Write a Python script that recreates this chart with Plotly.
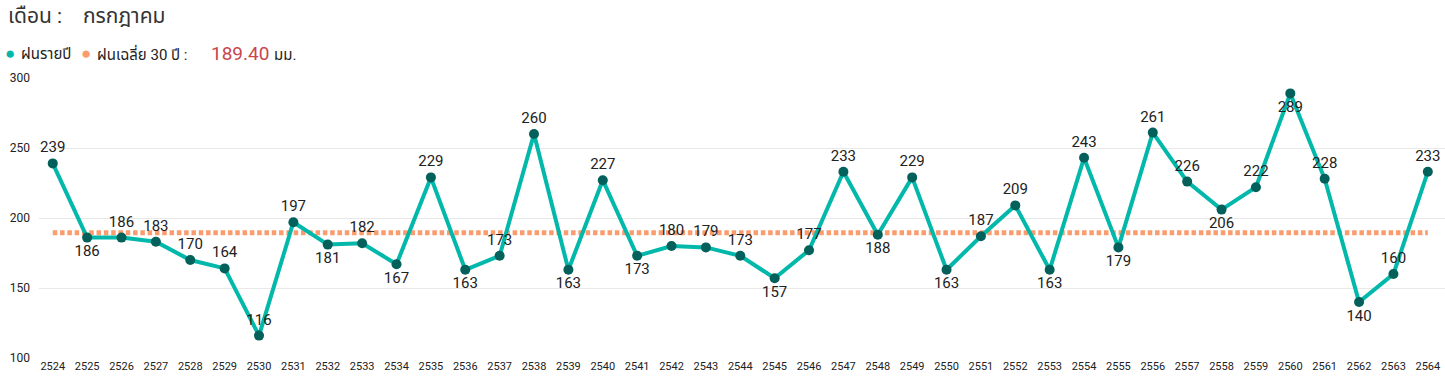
import plotly.graph_objects as go

YEARS = [str(y) for y in range(2524, 2565)]
RAIN = [239, 186, 186, 183, 170, 164, 116, 197, 181, 182, 167, 229, 163, 173, 260, 163,
        227, 173, 180, 179, 173, 157, 177, 233, 188, 229, 163, 187, 209, 163, 243, 179,
        261, 226, 206, 222, 289, 228, 140, 160, 233]
AVG_30 = 189.40
TITLE_LABEL = "เดือน :"
MONTH = "กรกฎาคม"
SERIES_NAME = "ฝนรายปี"
AVG_NAME = "ฝนเฉลี่ย 30 ปี :"
UNIT = "มม."
Y_TICKS = [100, 150, 200, 250, 300]

# label placement (style)
BELOW = {"2525", "2532", "2534", "2536", "2539", "2541", "2545", "2548", "2550",
         "2553", "2555", "2558", "2560", "2562"}
label_pos = ["bottom center" if y in BELOW else "top center" for y in YEARS]

W, H = 1445, 380
L, R, T, B = 39, 0, 78, 22
PW, PH = W - L - R, H - T - B

def px(x):
    return (x - L) / PW

def py(y):
    return (H - B - y) / PH

FONT = "Roboto, 'Noto Sans', 'Noto Sans Thai', sans-serif"
TEAL, DARK, ORANGE = "#01B8AA", "#03605A", "#FA9C6E"

fig = go.Figure()
fig.add_trace(go.Scatter(
    x=YEARS, y=[AVG_30] * len(YEARS), mode="lines",
    line=dict(color=ORANGE, width=5, dash="4.5px,2.8px"),
    hoverinfo="skip", showlegend=False))
fig.add_trace(go.Scatter(
    x=YEARS, y=RAIN, mode="lines+markers+text",
    line=dict(color=TEAL, width=4),
    marker=dict(color=DARK, size=10),
    text=[str(v) for v in RAIN], textposition=label_pos,
    textfont=dict(size=15, color="#222222", family=FONT),
    cliponaxis=False, showlegend=False))

fig.update_layout(
    width=W, height=H,
    margin=dict(l=L, r=R, t=T, b=B, autoexpand=False),
    paper_bgcolor="white", plot_bgcolor="white",
    font=dict(family=FONT, color="#222222"),
    xaxis=dict(type="category", range=[-0.4, 40.5], showgrid=False, zeroline=False,
               showline=False, ticks="", automargin=False,
               tickfont=dict(size=11, color="#222222")),
    yaxis=dict(range=[100, 300], tickvals=Y_TICKS, showgrid=True, gridcolor="#E8E8E8",
               gridwidth=1, zeroline=False, showline=False, ticks="", automargin=False,
               ticklabelstandoff=8,
               tickfont=dict(size=12, color="#222222")),
)

anns = [
    dict(x=px(6), y=py(16), text=TITLE_LABEL, font=dict(size=21, color="#333333")),
    dict(x=px(81), y=py(16), text=MONTH, font=dict(size=21, color="#333333")),
    dict(x=px(3), y=py(53), text="●", font=dict(size=17, color=TEAL)),
    dict(x=px(19), y=py(54), text=SERIES_NAME, font=dict(size=15, color="#222222")),
    dict(x=px(79), y=py(53), text="●", font=dict(size=17, color=ORANGE)),
    dict(x=px(95), y=py(54), text=AVG_NAME, font=dict(size=15, color="#222222")),
    dict(x=px(209), y=py(53), text=f"{AVG_30:.2f}", font=dict(size=19, color="#C8464E")),
    dict(x=px(272), y=py(55), text=UNIT, font=dict(size=15, color="#222222")),
]
for a in anns:
    fig.add_annotation(xref="paper", yref="paper", xanchor="left", yanchor="middle",
                       showarrow=False, **a)

fig.write_html("out.html", config={"displayModeBar": False},
               post_script="document.body.style.margin='0';document.body.style.overflow='hidden';")
